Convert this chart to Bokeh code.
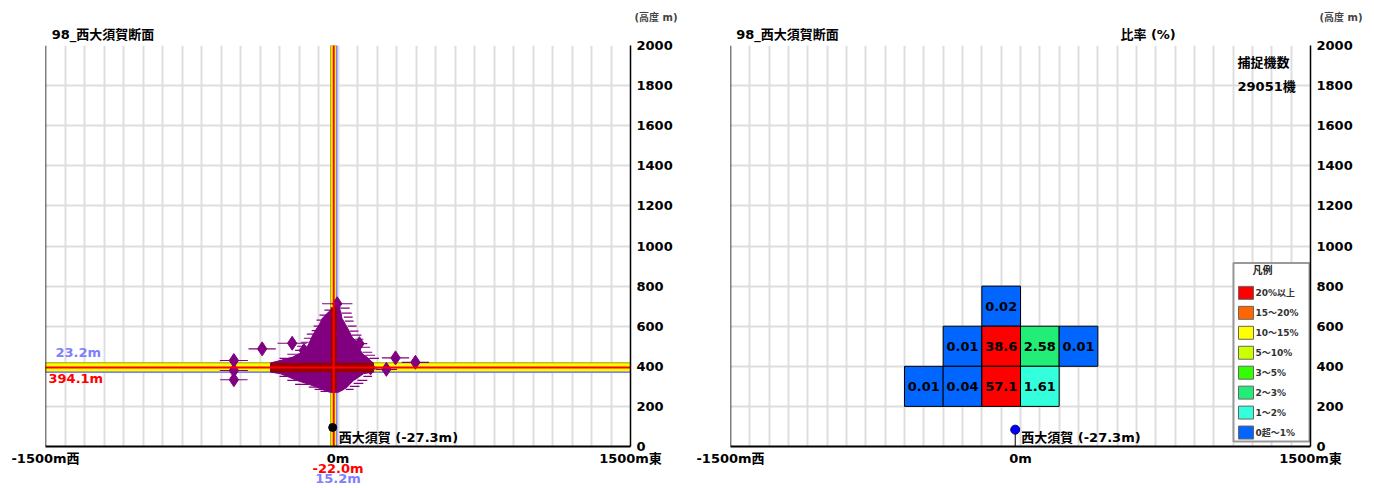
from bokeh.plotting import figure
from bokeh.models import (Range1d, FixedTicker, SingleIntervalTicker, Span, Label,
                          LinearAxis, Title)
from bokeh.layouts import row
from bokeh.embed import file_html
from bokeh.resources import INLINE
from bokeh.core.properties import value

# ---------------- data ----------------
section_title = "98_西大須賀断面"
ratio_title = "比率 (%)"
height_unit = "(高度 m)"
x_tick_vals = [-1500, 0, 1500]
x_tick_labels = ["-1500m西", "0m", "1500m東"]
y_tick_vals = list(range(0, 2001, 200))

station_label = "西大須賀 (-27.3m)"
station_x = -27.3
station_h_left = 95
station_h_right = 84

center_x = -22.0
sd_x = 15.2
center_y = 394.1
sd_y = 23.2

# purple cloud outline (height, west edge, east edge)
cloud_y = [270, 282, 296, 310, 329, 345, 363, 371, 417, 425, 445, 462, 480, 512, 545, 580, 610, 640, 670, 695]
cloud_left = [-40, -75, -107, -150, -209, -250, -295, -346, -346, -312, -235, -200, -167, -150, -135, -115, -95, -80, -50, -20]
cloud_right = [0, 25, 47, 60, 80, 105, 131, 182, 182, 170, 150, 125, 115, 105, 73, 55, 38, 20, 15, 5]

# ragged horizontal strokes along the cloud edge
edge_y = [680, 655, 630, 600, 578, 560, 540, 520, 500, 460, 440, 350, 330, 310, 296, 285, 275,
          690, 665, 645, 625, 600, 575, 555, 535, 495, 470, 455, 440, 350, 330, 315, 300, 285]
edge_x0 = [-70, -95, -110, -125, -135, -160, -175, -190, -210, -260, -300, -300, -260, -220, -150, -120, -90,
           10, 20, 30, 35, 50, 60, 70, 85, 120, 125, 140, 160, 130, 100, 80, 60, 40]
edge_x1 = [-20, -50, -70, -90, -100, -120, -135, -150, -160, -200, -230, -250, -200, -150, -100, -70, -40,
           60, 70, 75, 80, 95, 105, 120, 130, 165, 175, 190, 210, 175, 150, 130, 110, 80]

# isolated detections
out_x = [-534, -534, -534, -389, -235, -175, 110, -4, 295, 397, 248, 167]
out_y = [429, 379, 333, 487, 515, 479, 513, 712, 442, 420, 385, 392]
out_half = [72, 72, 70, 70, 75, 45, 40, 78, 70, 70, 55, 40]

# ratio cells (west edge, bottom edge, percent)
cell_x = [-200, -400, -200, 0, 200, -600, -400, -200, 0]
cell_y = [600, 400, 400, 400, 400, 200, 200, 200, 200]
cell_pct = [0.02, 0.01, 38.6, 2.58, 0.01, 0.01, 0.04, 57.1, 1.61]
cell_size = 200

count_title = "捕捉機数"
count_text = "29051機"

legend_title = "凡例"
legend_labels = ["20%以上", "15〜20%", "10〜15%", "5〜10%", "3〜5%", "2〜3%", "1〜2%", "0超〜1%"]
legend_colors = ["#ff0000", "#ff6600", "#ffff00", "#ccff00", "#33ff00", "#22ee77", "#33ffdd", "#0066ff"]
legend_lower = [20, 15, 10, 5, 3, 2, 1, 0]

# ---------------- style ----------------
FONT = "DejaVu Sans, Noto Sans CJK JP"
FRAME_H = 402
TITLE_TICK = -1205
RATIO_TICK = 660


def no_ticks(ax):
    ax.major_tick_line_color = None
    ax.minor_tick_line_color = None
    ax.major_tick_out = 0
    ax.major_tick_in = 0
    ax.minor_tick_out = 0
    ax.minor_tick_in = 0


def text_axis(ticks, labels, color="black", standoff=0, size="13px"):
    ax = LinearAxis(ticker=FixedTicker(ticks=ticks),
                    major_label_overrides={t: s for t, s in zip(ticks, labels)})
    ax.axis_line_color = None
    no_ticks(ax)
    ax.major_label_text_font = FONT
    ax.major_label_text_font_style = "bold"
    ax.major_label_text_font_size = size
    ax.major_label_text_color = color
    ax.major_label_standoff = standoff
    return ax


def base_fig(width, bl, br, unit_offset, top_labels, top_ticks):
    p = figure(width=width, height=488, output_backend="svg", toolbar_location=None,
               x_range=Range1d(-1500, 1500), y_range=Range1d(0, 2000),
               y_axis_location="right", min_border_left=bl, min_border_right=br,
               min_border_top=45, min_border_bottom=41)
    p.outline_line_color = None
    p.background_fill_color = "white"
    p.border_fill_color = "white"
    p.xgrid.ticker = SingleIntervalTicker(interval=100)
    p.ygrid.ticker = SingleIntervalTicker(interval=200)
    for g in (p.xgrid, p.ygrid):
        g.grid_line_color = "#dedede"
        g.grid_line_width = 2
    p.xaxis.ticker = FixedTicker(ticks=x_tick_vals)
    p.xaxis.major_label_overrides = {v: t for v, t in zip(x_tick_vals, x_tick_labels)}
    p.yaxis.ticker = FixedTicker(ticks=y_tick_vals)
    for ax in (p.xaxis, p.yaxis):
        ax.major_label_text_font = FONT
        ax.major_label_text_font_style = "bold"
        ax.major_label_text_font_size = "13px"
        ax.major_label_text_color = "black"
        no_ticks(ax)
        ax.axis_line_color = "black"
    p.xaxis.axis_line_width = 2
    p.yaxis.axis_line_width = 1.5
    p.xaxis.major_label_standoff = 4
    p.yaxis.major_label_standoff = 6
    p.add_layout(Span(location=-1500, dimension="height", line_color="black", line_width=1.5))
    p.add_layout(text_axis(top_ticks, top_labels, standoff=4), "above")
    p.title = Title(text=height_unit, align="right", offset=unit_offset, text_font=FONT,
                    text_font_style="bold", text_font_size="10px", text_color="#444444",
                    standoff=2)
    return p


def lab(p, x, y, text, xo=0, yo=0, color="black", size="13px", align="left", base="middle"):
    p.add_layout(Label(x=x, y=y, x_offset=xo, y_offset=yo, text=text, text_font=FONT,
                       text_font_style="bold", text_font_size=size, text_color=color,
                       text_align=align, text_baseline=base))


# ---------------- left panel ----------------
p1 = base_fig(690, 45, 60, -47, [section_title], [TITLE_TICK])

# bands
p1.quad(left=[center_x - sd_x], right=[center_x + sd_x], bottom=[0], top=[2000],
        fill_color="#ffff00", line_color="#9a9a00", line_width=1)
p1.quad(left=[-1500], right=[1500], bottom=[center_y - sd_y], top=[center_y + sd_y],
        fill_color="#ffff00", line_color="#9a9a00", line_width=1)
p1.segment(x0=[center_x + sd_x, -1500], y0=[0, center_y - sd_y],
           x1=[center_x + sd_x, 1500], y1=[2000, center_y - sd_y],
           line_color="#8080ff", line_width=1.5)

PURPLE = "#800080"
xs = cloud_left + cloud_right[::-1]
ys = cloud_y + cloud_y[::-1]
p1.patch(xs, ys, fill_color=PURPLE, line_color=PURPLE, line_width=1)
p1.segment(x0=edge_x0, y0=edge_y, x1=edge_x1, y1=edge_y, line_color=PURPLE, line_width=1.2)
p1.segment(x0=[x - h for x, h in zip(out_x, out_half)], y0=out_y,
           x1=[x + h for x, h in zip(out_x, out_half)], y1=out_y,
           line_color=PURPLE, line_width=1.2)
p1.scatter(out_x, out_y, marker="diamond", size=14, fill_color=PURPLE, line_color=PURPLE)

# dark overlap of detections with the bands
DARK = "#990000"
p1.quad(left=[min(cloud_left)], right=[max(cloud_right)], bottom=[center_y - sd_y],
        top=[center_y + sd_y], fill_color=DARK, line_color=None)
p1.quad(left=[center_x - sd_x], right=[center_x + sd_x], bottom=[min(cloud_y) + 9],
        top=[max(cloud_y)], fill_color=DARK, line_color=None)

p1.segment(x0=[center_x, -1500], y0=[0, center_y], x1=[center_x, 1500], y1=[2000, center_y],
           line_color="#ff0000", line_width=2)

p1.scatter([station_x], [station_h_left], marker="circle", size=8, fill_color="black", line_color="black")
lab(p1, station_x, 0, station_label, xo=6, yo=2, base="bottom")

lab(p1, -1500, center_y + sd_y, f"{sd_y:.1f}m", xo=10, yo=3, color="#8080ff", base="bottom")
lab(p1, -1500, center_y - sd_y, f"{center_y:.1f}m", xo=3, yo=1, color="#ff0000", base="top")
p1.add_layout(text_axis([0], [f"{center_x:.1f}m"], color="#ff0000", standoff=-8), "below")
p1.add_layout(text_axis([0], [f"{sd_x:.1f}m"], color="#8080ff", standoff=-8), "below")

# ---------------- right panel ----------------
p2 = base_fig(684, 40, 64, -52, [section_title, ratio_title], [TITLE_TICK, RATIO_TICK])
mx = 3000 / 580.0
my = 2000 / FRAME_H


def colour_for(v):
    for lo, c in zip(legend_lower, legend_colors):
        if v >= lo:
            return c
    return legend_colors[-1]


def fmt(v):
    return f"{v:.1f}" if v >= 10 else f"{v:.2f}"


p2.quad(left=cell_x, right=[x + cell_size for x in cell_x], bottom=cell_y,
        top=[y + cell_size for y in cell_y], fill_color=[colour_for(v) for v in cell_pct],
        line_color="black", line_width=1)
p2.text(x=[x + cell_size / 2 for x in cell_x], y=[y + cell_size / 2 for y in cell_y],
        text=[fmt(v) for v in cell_pct], text_align="center", text_baseline="middle",
        text_font=value(FONT), text_font_style="bold", text_font_size="13px", text_color="black")

p2.segment(x0=[station_x], y0=[0], x1=[station_x], y1=[station_h_right], line_color="black", line_width=1)
p2.scatter([station_x], [station_h_right], marker="circle", size=9, fill_color="#0000ff", line_color="#000066")
lab(p2, station_x, 0, station_label, xo=6, yo=2, base="bottom")

p2.text(x=[1500 - 73 * mx] * 2, y=[385 * my, 361 * my], text=[count_title, count_text],
        text_align="left", text_baseline="middle", text_font=value(FONT),
        text_font_style="bold", text_font_size="13px", text_color="black")

# legend box
p2.quad(left=[1500 - 77 * mx], right=[1500 - 1 * mx], bottom=[5 * my], top=[184 * my],
        fill_color="white", line_color="#999999", line_width=2)
p2.text(x=[1500 - 48 * mx], y=[176 * my], text=[legend_title], text_align="center",
        text_baseline="middle", text_font=value(FONT), text_font_style="bold",
        text_font_size="10px", text_color="#222222")
row_c = [(154 - 20 * i) * my for i in range(len(legend_labels))]
p2.quad(left=[1500 - 72 * mx] * len(row_c), right=[1500 - 57 * mx] * len(row_c),
        bottom=[c - 6.5 * my for c in row_c], top=[c + 6.5 * my for c in row_c],
        fill_color=legend_colors, line_color="#666666", line_width=1)
p2.text(x=[1500 - 55 * mx] * len(row_c), y=row_c, text=legend_labels, text_align="left",
        text_baseline="middle", text_font=value(FONT), text_font_style="bold",
        text_font_size="9px", text_color="#333333")

layout = row(p1, p2)
open("out.html", "w").write(file_html(layout, INLINE))
